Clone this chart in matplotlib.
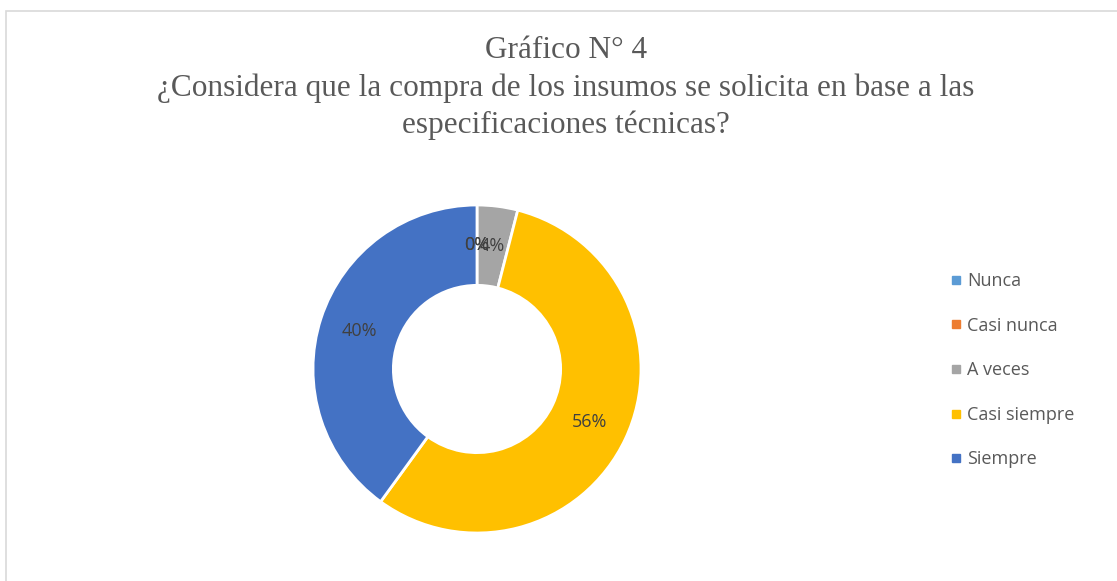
import matplotlib as mpl
mpl.use('Agg')
import matplotlib.pyplot as plt
from matplotlib.lines import Line2D
from matplotlib.patches import Rectangle

# respuestas por categoria (25 encuestados)
categorias = ['Nunca', 'Casi nunca', 'A veces', 'Casi siempre', 'Siempre']
respuestas = [0, 0, 1, 14, 10]
colores = ['#5B9BD5', '#ED7D31', '#A5A5A5', '#FFC000', '#4472C4']

titulo = ['Gráfico N° 4',
          '¿Considera que la compra de los insumos se solicita en base a las',
          'especificaciones técnicas?']

W, H = 1117, 581
fig = plt.figure(figsize=(W / 100, H / 100), dpi=100)
fig.patch.set_facecolor('white')

# marco del grafico
fig.patches.append(Rectangle((6 / W, -0.1), 1.2, (H - 11) / H + 0.1,
                             transform=fig.transFigure, fill=False,
                             edgecolor='#D9D9D9', linewidth=1.2))

# titulo (lineas en su linea base)
base = [58, 96, 133]
for t, y in zip(titulo, base):
    fig.text(566 / W, 1 - y / H, t, ha='center', va='baseline',
             family='Liberation Serif', fontsize=22.5, color='#595959')

# anillo
cx, cy, r = 477, H - 369, 164
ax = fig.add_axes([(cx - r) / W, (cy - r) / H, 2 * r / W, 2 * r / H])
wedges, _, autotexts = ax.pie(
    respuestas, colors=colores, startangle=90, counterclock=False,
    radius=1, autopct='%.0f%%', pctdistance=0.755,
    wedgeprops=dict(width=0.49, edgecolor='white', linewidth=2),
    textprops=dict(family='Open Sans', fontsize=13, color='#404040'))
ax.set_xlim(-1, 1)
ax.set_ylim(-1, 1)
ax.axis('off')

# leyenda
handles = [Line2D([], [], marker='s', linestyle='none', markersize=6,
                  markerfacecolor=c, markeredgecolor=c) for c in colores]
leg = fig.legend(handles, categorias, loc='upper left',
                 bbox_to_anchor=(934 / W, 1 - 256 / H), frameon=False,
                 handlelength=0.6, handletextpad=0.35, labelspacing=1.47,
                 prop=dict(family='Open Sans', size=13))
for txt in leg.get_texts():
    txt.set_color('#595959')

fig.savefig('out.png', dpi=100)
